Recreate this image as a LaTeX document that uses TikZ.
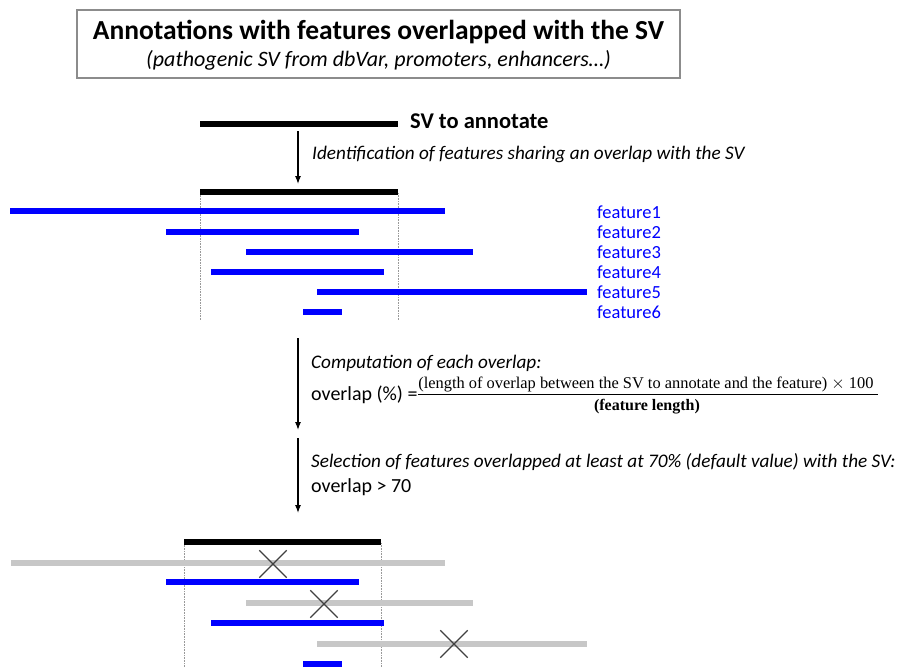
\documentclass[tikz,border=0pt]{standalone}
\usepackage{fontspec}
\setmainfont{Carlito}
\newfontfamily\eqfont{Liberation Serif}
\usetikzlibrary{shapes.misc,arrows.meta}

\begin{document}
\begin{tikzpicture}[x=1pt,y=-1pt,
	svbar/.style={line width=5.5pt,black},
	featbar/.style={line width=5.5pt,blue},
	dropbar/.style={line width=5.5pt,black!22},
	guide/.style={densely dotted,black!40,line width=0.6pt},
	flow/.style={-{Latex[length=8pt,width=6pt]},line width=1.1pt},
	cut/.style={cross out,draw=black!75,line width=1.3pt,minimum size=26pt,inner sep=0pt},
	note/.style={anchor=base west,inner sep=0pt,font=\fontsize{20}{24}\selectfont},
	featname/.style={anchor=west,inner sep=0pt,text=blue,font=\fontsize{18.5}{22}\selectfont}]
	\useasboundingbox (0,0) rectangle (898,667);
	% title box
	\node[draw=black!45,line width=1.2pt,minimum width=603pt,minimum height=68pt,inner sep=0pt] (titlebox) at (378.5,44) {};
	\node[anchor=base,inner sep=0pt,font=\bfseries\fontsize{27.5}{30}\selectfont] (title) at (378.5,39) {Annotations with features overlapped with the SV};
	\node[anchor=base,inner sep=0pt,font=\itshape\fontsize{22}{26}\selectfont] (subtitle) at (378.5,66) {(pathogenic SV from dbVar, promoters, enhancers\ldots)};
	% SV to annotate
	\draw[svbar] (200,124)--(398,124);
	\node[anchor=west,inner sep=0pt,font=\bfseries\fontsize{22.5}{26}\selectfont] (svname) at (410,121) {SV to annotate};
	\coordinate (a1s) at (298,131);
	\coordinate (a1e) at (298,184);
	\draw[flow] (a1s)--(a1e);
	\node[note,font=\itshape\fontsize{19.2}{23}\selectfont] (step1) at (312,159) {Identification of features sharing an overlap with the SV};
	% features
	\draw[guide] (200,193)--(200,320);
	\draw[guide] (398,193)--(398,320);
	\draw[svbar] (200,192)--(398,192);
	\draw[featbar] (10,211)--(445,211);
	\draw[featbar] (166,232)--(359,232);
	\draw[featbar] (246,252)--(473,252);
	\draw[featbar] (211,272)--(384,272);
	\draw[featbar] (317,292)--(587,292);
	\draw[featbar] (303,312)--(342,312);
	\node[featname] (f1) at (597,212) {feature1};
	\node[featname] (f2) at (597,232) {feature2};
	\node[featname] (f3) at (597,252) {feature3};
	\node[featname] (f4) at (597,272) {feature4};
	\node[featname] (f5) at (597,292) {feature5};
	\node[featname] (f6) at (597,312) {feature6};
	% overlap computation
	\coordinate (a2s) at (298,338);
	\coordinate (a2e) at (298,430);
	\draw[flow] (a2s)--(a2e);
	\node[note,font=\itshape\fontsize{19.2}{23}\selectfont] (step2) at (311,368) {Computation of each overlap:};
	\node[note] (formula) at (311,400) {overlap (\%) =};
	\node[anchor=base,inner sep=0pt,font=\eqfont\fontsize{16.4}{18}\selectfont] (num) at (646,388) {(length of overlap between the SV to annotate and the feature) $\times$ 100};
	\node[anchor=base,inner sep=0pt,font=\eqfont\bfseries\fontsize{16}{18}\selectfont] (den) at (647,410) {(feature length)};
	\draw[line width=0.9pt] (418,394)--(878,394);
	% selection
	\coordinate (a3s) at (298,438);
	\coordinate (a3e) at (298,513);
	\draw[flow] (a3s)--(a3e);
	\node[note,font=\itshape\fontsize{19.2}{23}\selectfont] (step3) at (311,467) {Selection of features overlapped at least at 70\% (default value) with the SV:};
	\node[note] (rule) at (311,492) {overlap > 70};
	% result
	\draw[guide] (184,543)--(184,667);
	\draw[guide] (381,543)--(381,667);
	\draw[svbar] (184,542)--(381,542);
	\draw[dropbar] (11,563)--(445,563);
	\draw[featbar] (166,582)--(359,582);
	\draw[dropbar] (246,603)--(473,603);
	\draw[featbar] (211,623)--(384,623);
	\draw[dropbar] (317,644)--(587,644);
	\draw[featbar] (303,664)--(342,664);
	\node[cut] (x1) at (273,564) {};
	\node[cut] (x2) at (324,604) {};
	\node[cut] (x3) at (454,644) {};
\end{tikzpicture}
\end{document}
